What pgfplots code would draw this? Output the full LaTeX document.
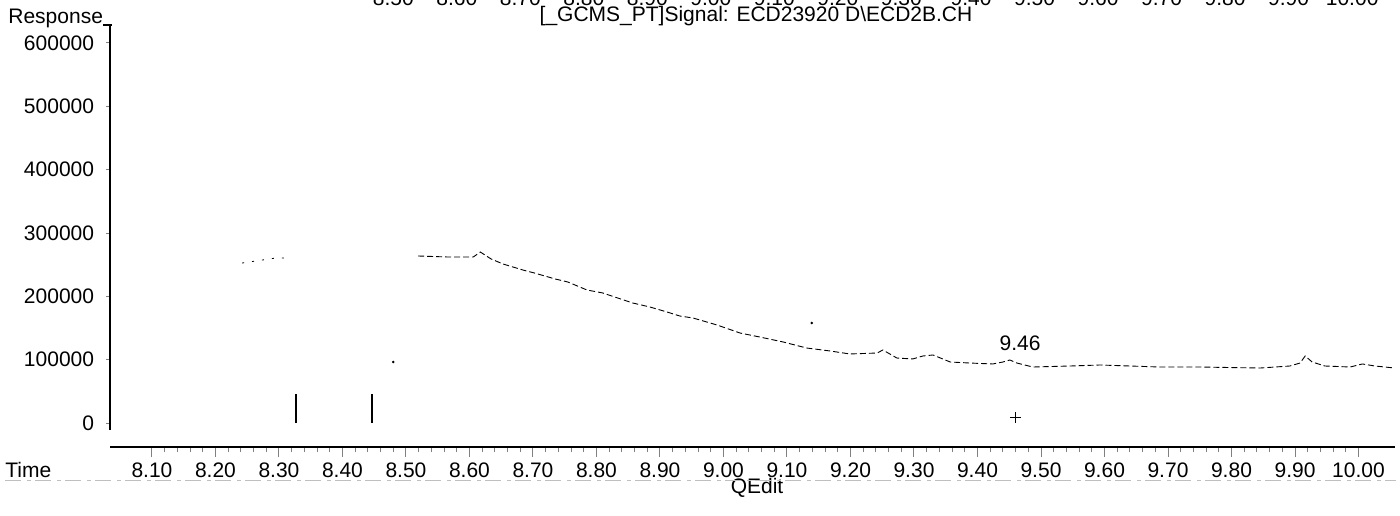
\documentclass[border=0pt]{standalone}
\usepackage{pgfplots}
\pgfplotsset{compat=1.18}
\usepackage{fontspec}
\setmainfont{Liberation Sans}
\begin{document}
\fontsize{10.5}{12}\selectfont
\begin{tikzpicture}
\useasboundingbox (0,0) rectangle (700pt,257.5pt);
\begin{axis}[
  at={(55pt,34pt)}, anchor=south west,
  scale only axis, width=642.5pt, height=211pt,
  xmin=8.0339, xmax=10.0575, ymin=-37900, ymax=628400,
  axis x line=bottom, axis y line=left,
  axis line style={-, line width=0.6pt},
  y axis line style={shorten <=8.5pt},
  xtick={8.1,8.2,...,10.01},
  minor x tick num=4,
  ytick={0,100000,...,600000},
  tick align=outside,
  xtick style={line width=0.5pt, /pgfplots/major tick length=5pt, /pgfplots/minor tick length=2.5pt},
  ytick style={line width=0.5pt, /pgfplots/major tick length=2pt},
  x tick label style={/pgf/number format/.cd, fixed, fixed zerofill, precision=2},
  y tick label style={/pgf/number format/.cd, fixed, 1000 sep={}},
  /pgf/number format/assume math mode=true,
  ticklabel style={font=\fontsize{10.5}{12}\selectfont},
  scaled ticks=false,
  clip=false,
]
% signal, first faint segment
\addplot[black, line width=0.4pt, dash pattern=on 1pt off 4pt] coordinates {
(8.242,252600) (8.295,260500) (8.311,260500)};
% signal, main trace
\addplot[black, line width=0.45pt, dash pattern=on 3pt off 1.5pt] coordinates {
(8.519,263700) (8.566,262100) (8.606,262100) (8.617,270000) (8.634,259000)
(8.653,251000) (8.684,241600) (8.702,236900) (8.735,227400) (8.755,222600)
(8.785,210000) (8.810,205300) (8.824,200500) (8.857,189500) (8.884,183200)
(8.911,175300) (8.931,169000) (8.952,165800) (8.990,154700) (9.026,142100)
(9.057,135800) (9.094,127900) (9.131,118400) (9.168,113700) (9.199,109000)
(9.242,110500) (9.251,115300) (9.273,102600) (9.298,101100) (9.314,105800)
(9.330,107400) (9.357,96300) (9.388,94700) (9.424,93200) (9.440,96300)
(9.451,99500) (9.462,94700) (9.487,88400) (9.546,90000) (9.593,91600)
(9.640,90000) (9.687,88400) (9.750,88400) (9.845,86800) (9.892,90000)
(9.908,94700) (9.916,105800) (9.927,96300) (9.947,90000) (9.987,88400)
(10.006,93200) (10.026,90000) (10.057,86800)};
% event bars
\addplot[black, line width=1pt] coordinates {(8.327,0) (8.327,45800)};
\addplot[black, line width=1pt] coordinates {(8.446,0) (8.446,45800)};
% stray dots
\addplot[only marks, mark=*, mark size=0.4pt, black] coordinates {(8.48,96300) (9.139,157900)};
% + marker
\addplot[only marks, mark=+, mark size=2.6pt, black, line width=0.5pt] coordinates {(9.46,9000)};
\node[font=\fontsize{10.5}{12}\selectfont] at (axis cs:9.467,126300) {9.46};
% top cut-off row of labels (from the previous page)
\foreach \t/\l in {8.48/8.50,8.58/8.60,8.68/8.70,8.78/8.80,8.88/8.90,8.98/9.00,9.08/9.10,9.18/9.20,9.28/9.30,9.39/9.40,9.49/9.50,9.59/9.60,9.69/9.70,9.79/9.80,9.89/9.90,9.99/10.00}{
  \edef\tmp{\noexpand\node[anchor=base, font=\noexpand\fontsize{10.5}{12}\noexpand\selectfont] at (axis cs:\t,628400) [yshift=10pt] {\l};}\tmp
}
\end{axis}
\draw[line width=0.6pt] (51.5pt,245pt) -- (56pt,245pt);
\node[anchor=west, inner sep=0pt] at (4pt,248.5pt) {Response};
\node[anchor=west, inner sep=0pt] at (2.5pt,22.5pt) {Time};
\node[inner sep=0pt] at (378.5pt,13.5pt) {QEdit};
\node[inner sep=0pt] at (378pt,249.5pt) {[\_GCMS\_PT]Signal: ECD23920 D\textbackslash ECD2B.CH};
\draw[gray!50, line width=0.4pt, dash pattern=on 8pt off 3pt on 2pt off 2pt] (2.5pt,17.5pt) -- (698pt,17.5pt);
\end{tikzpicture}
\end{document}
